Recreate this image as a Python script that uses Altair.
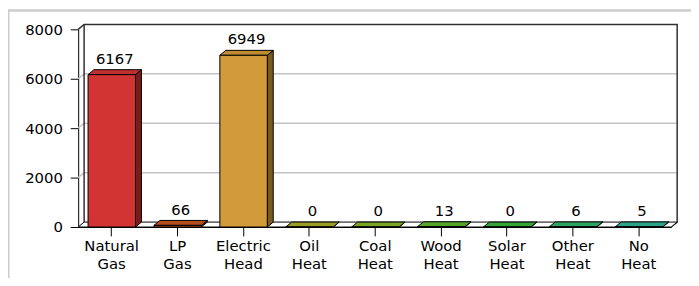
import altair as alt
import pandas as pd

categories = ["Natural Gas", "LP Gas", "Electric Head", "Oil Heat", "Coal Heat",
              "Wood Heat", "Solar Heat", "Other Heat", "No Heat"]
values = [6167, 66, 6949, 0, 0, 13, 0, 6, 5]
front_colors = ["#D23434", "#C4561E", "#D29A38", "#A8A82A", "#86B22C",
                "#5CB32E", "#3AB23A", "#2FB36A", "#2FB394"]
side_colors = ["#7A1C1C", "#7A3210", "#7A5A1E", "#626218", "#4E6A18",
               "#366A1A", "#226A22", "#1C6A3E", "#1C6A58"]
top_colors = ["#C03030", "#B44E1C", "#C08C32", "#9C9C26", "#7CA428",
              "#54A42A", "#36A436", "#2CA462", "#2CA488"]
y_ticks = [0, 2000, 4000, 6000, 8000]

DX = 0.09      # depth offset in category units
DY = 200       # depth offset in value units
L, R = 0.15, 0.87
N = len(categories)
YMAX = 8000

xs = alt.Scale(domain=[0, N], nice=False, zero=False)
ys = alt.Scale(domain=[0, YMAX], nice=False)

# ---- data tables -------------------------------------------------------
front = pd.DataFrame({
    "cat": categories, "v": values, "c": front_colors,
    "x": [i + L for i in range(N)], "x2": [i + R for i in range(N)],
    "y0": [0] * N,
})
side_rows, top_rows = [], []
for i, (cat, v) in enumerate(zip(categories, values)):
    side_rows += [
        dict(cat=cat, c=side_colors[i], x=i + R, y=0, y2=v),
        dict(cat=cat, c=side_colors[i], x=i + R + DX, y=DY, y2=v + DY),
    ]
    top_rows += [
        dict(cat=cat, c=top_colors[i], x=i + L, y=v, y2=v),
        dict(cat=cat, c=top_colors[i], x=i + L + DX, y=v, y2=v + DY),
        dict(cat=cat, c=top_colors[i], x=i + R, y=v, y2=v + DY),
        dict(cat=cat, c=top_colors[i], x=i + R + DX, y=v + DY, y2=v + DY),
    ]
side = pd.DataFrame(side_rows)
top = pd.DataFrame(top_rows)
labels = pd.DataFrame({"v": values, "t": [str(v) for v in values],
                       "x": [i + (L + R + DX) / 2 for i in range(N)],
                       "y": [v + DY for v in values]})

grid = pd.DataFrame({"x": [DX] * 3, "x2": [N + DX] * 3,
                     "y": [g + DY for g in y_ticks[1:-1]]})
grid_diag_rows = []
for g in y_ticks[1:-1]:
    grid_diag_rows += [dict(g=g, x=0, y=g), dict(g=g, x=DX, y=g + DY)]
grid_diag = pd.DataFrame(grid_diag_rows)

# back wall outline (left edge, top, right edge) + top-left diagonal + right floor diagonal
wall = pd.DataFrame([
    dict(k="a", o=0, x=0, y=YMAX), dict(k="a", o=1, x=DX, y=YMAX + DY),
    dict(k="a", o=2, x=N + DX, y=YMAX + DY), dict(k="a", o=3, x=N + DX, y=DY),
    dict(k="a", o=4, x=N, y=0),
    dict(k="b", o=0, x=DX, y=YMAX + DY), dict(k="b", o=1, x=DX, y=DY),
])
floor = pd.DataFrame([
    dict(x=0, y=0, y2=0), dict(x=DX, y=0, y2=DY),
    dict(x=N, y=0, y2=DY), dict(x=N + DX, y=DY, y2=DY),
])

label_expr = "split([" + ",".join("'%s'" % c for c in categories) + "][floor(datum.value)], ' ')"

base_x_axis = alt.Axis(values=[i + 0.5 for i in range(N)], labelExpr=label_expr,
                       title=None, grid=False, domainColor="black", tickColor="black",
                       tickSize=9, labelPadding=3, labelFont="DejaVu Sans", labelFontSize=15,
                       labelColor="black", labelLineHeight=18, labelAngle=0, labelBaseline="top")
base_y_axis = alt.Axis(values=y_ticks, title=None, grid=False, domainColor="black",
                       tickColor="black", tickSize=8, labelPadding=8, labelFont="DejaVu Sans",
                       labelFontSize=15, labelColor="black", format="d")

grid_l = alt.Chart(grid).mark_rule(color="#c4c4c4", strokeWidth=1.5).encode(
    x=alt.X("x:Q", scale=xs, axis=base_x_axis), x2="x2:Q",
    y=alt.Y("y:Q", scale=ys, axis=base_y_axis))
grid_d = alt.Chart(grid_diag).mark_line(color="#c4c4c4", strokeWidth=1.5).encode(
    x=alt.X("x:Q", scale=xs), y=alt.Y("y:Q", scale=ys), detail="g:N")
wall_l = alt.Chart(wall).mark_line(color="#303030", strokeWidth=1.5).encode(
    x=alt.X("x:Q", scale=xs), y=alt.Y("y:Q", scale=ys), detail="k:N", order="o:Q")
floor_l = alt.Chart(floor).mark_area(fill="white", stroke="black", strokeWidth=1).encode(
    x=alt.X("x:Q", scale=xs), y=alt.Y("y:Q", scale=ys, stack=None), y2="y2:Q")
side_l = alt.Chart(side).mark_area(stroke="black", strokeWidth=1, opacity=1).encode(
    x=alt.X("x:Q", scale=xs), y=alt.Y("y:Q", scale=ys, stack=None), y2="y2:Q",
    color=alt.Color("c:N", scale=None), detail="cat:N")
top_l = alt.Chart(top).mark_area(stroke="black", strokeWidth=1, opacity=1).encode(
    x=alt.X("x:Q", scale=xs), y=alt.Y("y:Q", scale=ys, stack=None), y2="y2:Q",
    color=alt.Color("c:N", scale=None), detail="cat:N")
front_l = alt.Chart(front).mark_rect(stroke="black", strokeWidth=1).encode(
    x=alt.X("x:Q", scale=xs), x2="x2:Q", y=alt.Y("y0:Q", scale=ys), y2="v:Q",
    color=alt.Color("c:N", scale=None))
text_l = alt.Chart(labels).mark_text(font="DejaVu Sans", fontSize=15, baseline="bottom",
                                     dy=-3, color="black").encode(
    x=alt.X("x:Q", scale=xs), y=alt.Y("y:Q", scale=ys), text="t:N")

frame_top = alt.Chart(pd.DataFrame({"k": [0]})).mark_rule(color="#cccccc", strokeWidth=2.5).encode(
    x=alt.value(-72), x2=alt.value(640), y=alt.value(-19))
frame_left = alt.Chart(pd.DataFrame({"k": [0]})).mark_rule(color="#cccccc", strokeWidth=2).encode(
    x=alt.value(-70.5), y=alt.value(-20), y2=alt.value(260))

chart = alt.layer(grid_l, grid_d, wall_l, floor_l, side_l, top_l, front_l, text_l,
                  frame_top, frame_left).properties(
    width=600, height=200,
    autosize=alt.AutoSizeParams(type="none"),
    padding={"left": 71, "top": 20, "right": 20, "bottom": 50},
).configure_view(stroke=None)

chart.save("out.html", embed_options={"renderer": "svg", "actions": False})
